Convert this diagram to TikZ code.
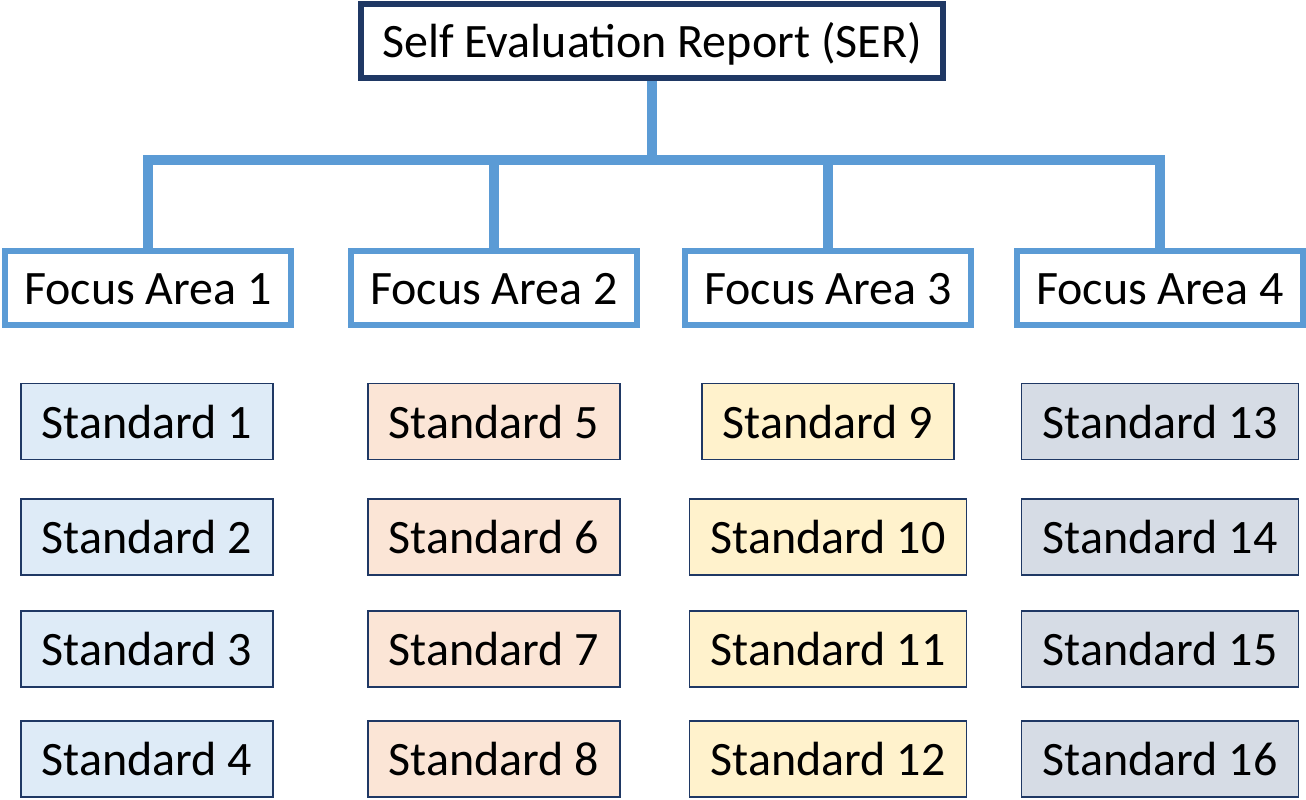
\documentclass[tikz,border=0pt]{standalone}
\usepackage{fontspec}
\setmainfont{Carlito}
\definecolor{navy}{HTML}{1F3864}
\definecolor{linkblue}{HTML}{5B9BD5}
\definecolor{stdblue}{HTML}{DEEBF7}
\definecolor{stdorange}{HTML}{FBE5D6}
\definecolor{stdyellow}{HTML}{FFF2CC}
\definecolor{stdgrey}{HTML}{D6DCE5}
\tikzset{
  txt/.style={font=\fontsize{48}{57}\selectfont,text height=40pt,text depth=7pt,inner sep=0pt},
  serbox/.style={txt,draw=navy,line width=6pt,fill=white,minimum width=582pt,minimum height=74pt},
  areabox/.style={txt,draw=linkblue,line width=6pt,fill=white,minimum width=286pt,minimum height=74pt},
  stdbox/.style={txt,draw=navy,line width=1.6pt,inner xsep=21pt,minimum height=76pt},
  conn/.style={draw=linkblue,line width=10pt}
}
\begin{document}
\begin{tikzpicture}[x=1pt,y=-1pt]
 \useasboundingbox (0,0) rectangle (1306,800);
 \node[serbox] (ser) at (652,41) {Self Evaluation Report (SER)};
 \node[areabox] (fa1) at (148,288) {Focus Area 1};
 \node[areabox] (fa2) at (494,288) {Focus Area 2};
 \node[areabox] (fa3) at (828,288) {Focus Area 3};
 \node[areabox] (fa4) at (1160,288) {Focus Area 4};
 \coordinate (bus) at (652,160);
 % tree lines
 \draw[conn] (ser.south) -- (bus);
 \draw[conn] (fa1.north) -- (fa1.north |- bus) -- (fa4.north |- bus) -- (fa4.north);
 \draw[conn] (fa2.north) -- (fa2.north |- bus);
 \draw[conn] (fa3.north) -- (fa3.north |- bus);
 % standards, one column per focus area
 \foreach \c/\x/\col in {0/147/stdblue,1/494/stdorange,2/828/stdyellow,3/1160/stdgrey}
  \foreach \r/\y in {1/421.5,2/537,3/649,4/759}{
   \pgfmathtruncatemacro\n{4*\c+\r}
   \node[stdbox,fill=\col] (std\n) at (\x,\y) {Standard \n};
  }
\end{tikzpicture}
\end{document}
